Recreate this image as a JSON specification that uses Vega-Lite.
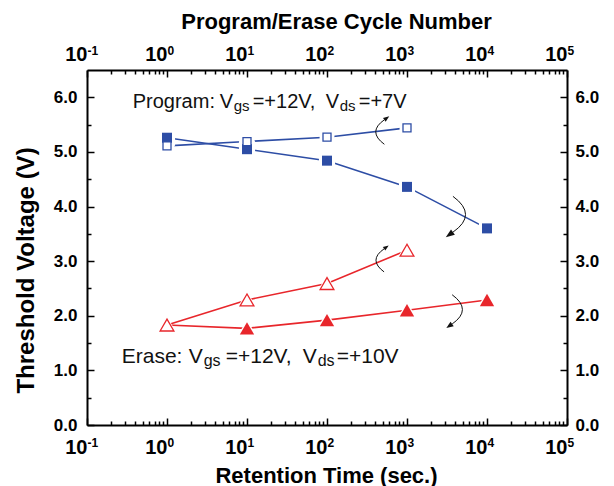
{
  "$schema": "https://vega.github.io/schema/vega-lite/v6.json",
  "width": 480,
  "height": 355,
  "autosize": {"type": "none"},
  "padding": {"left": 87, "top": 70, "right": 47, "bottom": 61},
  "background": "white",
  "config": {
    "view": {"stroke": null},
    "axis": {
      "grid": false,
      "domainColor": "#000000",
      "tickColor": "#000000",
      "labelColor": "#000000",
      "titleColor": "#000000",
      "labelFont": "Liberation Sans",
      "titleFont": "Liberation Sans",
      "labelFontWeight": "bold",
      "titleFontWeight": "bold",
      "labelFlush": false,
      "labelOverlap": false,
      "labelBound": false,
      "domainWidth": 2,
      "tickWidth": 1.5
    }
  },
  "datasets": {
    "pts": [
      {"t": 1, "v": 5.26, "series": "Program retention"},
      {"t": 10, "v": 5.05, "series": "Program retention"},
      {"t": 100, "v": 4.84, "series": "Program retention"},
      {"t": 1000, "v": 4.36, "series": "Program retention"},
      {"t": 10000, "v": 3.6, "series": "Program retention"},
      {"t": 1, "v": 5.11, "series": "Program cycling"},
      {"t": 10, "v": 5.19, "series": "Program cycling"},
      {"t": 100, "v": 5.27, "series": "Program cycling"},
      {"t": 1000, "v": 5.44, "series": "Program cycling"},
      {"t": 1, "v": 1.83, "series": "Erase cycling"},
      {"t": 10, "v": 2.29, "series": "Erase cycling"},
      {"t": 100, "v": 2.59, "series": "Erase cycling"},
      {"t": 1000, "v": 3.2, "series": "Erase cycling"},
      {"t": 1, "v": 1.83, "series": "Erase retention"},
      {"t": 10, "v": 1.77, "series": "Erase retention"},
      {"t": 100, "v": 1.92, "series": "Erase retention"},
      {"t": 1000, "v": 2.1, "series": "Erase retention"},
      {"t": 10000, "v": 2.29, "series": "Erase retention"}
    ],
    "notes": [
      {"t": 0.3727, "v": 5.92, "text": "Program:", "part": "program"},
      {"t": 4.558, "v": 5.92, "text": "V", "part": "program"},
      {"t": 6.819, "v": 5.85, "text": "gs", "part": "program-sub"},
      {"t": 11.78, "v": 5.92, "text": "=+12V,", "part": "program"},
      {"t": 96.3, "v": 5.92, "text": "V", "part": "program"},
      {"t": 144.1, "v": 5.85, "text": "ds", "part": "program-sub"},
      {"t": 249.0, "v": 5.92, "text": "=+7V", "part": "program"},
      {"t": 0.2716, "v": 1.25, "text": "Erase:", "part": "erase"},
      {"t": 1.867, "v": 1.25, "text": "V", "part": "erase"},
      {"t": 2.875, "v": 1.18, "text": "gs", "part": "erase-sub"},
      {"t": 5.417, "v": 1.25, "text": "=+12V,", "part": "erase"},
      {"t": 49.69, "v": 1.25, "text": "V", "part": "erase"},
      {"t": 76.5, "v": 1.18, "text": "ds", "part": "erase-sub"},
      {"t": 132.2, "v": 1.25, "text": "=+10V", "part": "erase"}
    ],
    "turns": [
      {"t": 456, "v": 5.37, "arc": "a1"},
      {"t": 4560, "v": 3.85, "arc": "a2"},
      {"t": 456, "v": 3.02, "arc": "a3"},
      {"t": 4300, "v": 2.11, "arc": "a4"}
    ]
  },
  "resolve": {
    "axis": {"x": "independent", "y": "independent"},
    "scale": {"shape": "independent", "size": "independent"}
  },
  "layer": [
    {
      "data": {"name": "pts"},
      "mark": {"type": "line", "strokeWidth": 1.6},
      "encoding": {
        "x": {
          "field": "t", "type": "quantitative",
          "scale": {"type": "log", "domain": [0.1, 100000], "nice": false},
          "axis": {
            "orient": "bottom",
            "values": [0.1, 1, 10, 100, 1000, 10000, 100000],
            "labelExpr": "'10'",
            "labelFontSize": 20,
            "labelAlign": "right",
            "labelBaseline": "alphabetic",
            "labelDx": 9,
            "labelPadding": 35,
            "tickSize": -7,
            "title": "Retention Time (sec.)",
            "titleFontSize": 22,
            "titleX": 239,
            "titleY": 50,
            "titleAlign": "center",
            "titleBaseline": "middle",
            "titleAngle": 0
          }
        },
        "y": {
          "field": "v", "type": "quantitative",
          "scale": {"domain": [0, 6.5], "nice": false, "zero": false},
          "axis": {
            "orient": "left",
            "values": [0, 1, 2, 3, 4, 5, 6],
            "format": ".1f",
            "labelFontSize": 17,
            "labelPadding": 17,
            "tickSize": -7,
            "title": "Threshold Voltage (V)",
            "titleFontSize": 24,
            "titleX": -61,
            "titleY": 200,
            "titleAngle": -90,
            "titleAlign": "center",
            "titleBaseline": "middle"
          }
        },
        "color": {
          "field": "series", "type": "nominal",
          "scale": {
            "domain": ["Program retention", "Program cycling", "Erase cycling", "Erase retention"],
            "range": ["#2D4DA5", "#2D4DA5", "#E8262B", "#E8262B"]
          },
          "legend": null
        }
      }
    },
    {
      "data": {"name": "pts"},
      "transform": [{"filter": "!(datum.series === 'Erase retention' && datum.t === 1)"}],
      "mark": {"type": "point", "filled": true, "color": "white", "opacity": 1, "strokeWidth": 0},
      "encoding": {
        "x": {
          "field": "t", "type": "quantitative",
          "scale": {"type": "log", "domain": [0.1, 100000], "nice": false},
          "axis": {
            "orient": "bottom",
            "values": [0.2, 0.3, 0.4, 0.5, 0.6, 0.7, 0.8, 0.9, 2, 3, 4, 5, 6, 7, 8, 9, 20, 30, 40, 50, 60, 70, 80, 90, 200, 300, 400, 500, 600, 700, 800, 900, 2000, 3000, 4000, 5000, 6000, 7000, 8000, 9000, 20000, 30000, 40000, 50000, 60000, 70000, 80000, 90000],
            "labels": false,
            "domain": false,
            "tickSize": -4,
            "title": null
          }
        },
        "y": {
          "field": "v", "type": "quantitative",
          "scale": {"domain": [0, 6.5], "nice": false, "zero": false},
          "axis": {
            "orient": "left",
            "values": [0.5, 1.5, 2.5, 3.5, 4.5, 5.5],
            "labels": false,
            "domain": false,
            "tickSize": -4,
            "title": null
          }
        },
        "shape": {
          "field": "series", "type": "nominal",
          "scale": {
            "domain": ["Program retention", "Program cycling", "Erase cycling", "Erase retention"],
            "range": ["square", "square", "triangle-up", "triangle-up"]
          },
          "legend": null
        },
        "size": {
          "field": "series", "type": "nominal",
          "scale": {
            "type": "ordinal",
            "domain": ["Program retention", "Program cycling", "Erase cycling", "Erase retention"],
            "range": [260, 220, 420, 420]
          },
          "legend": null
        }
      }
    },
    {
      "data": {"name": "pts"},
      "transform": [{"filter": "datum.series === 'Program retention'"}],
      "mark": {"type": "point", "shape": "square", "filled": true, "color": "#2D4DA5", "opacity": 1, "size": 100, "strokeWidth": 0},
      "encoding": {
        "x": {
          "field": "t", "type": "quantitative",
          "scale": {"type": "log", "domain": [0.1, 100000], "nice": false},
          "axis": {
            "orient": "bottom",
            "values": [0.1, 1, 10, 100, 1000, 10000, 100000],
            "labelExpr": "'' + round(log(datum.value) / LN10)",
            "labelFontSize": 12,
            "labelAlign": "left",
            "labelBaseline": "alphabetic",
            "labelDx": 10,
            "labelPadding": 21,
            "ticks": false,
            "domain": false,
            "title": null
          }
        },
        "y": {
          "field": "v", "type": "quantitative",
          "scale": {"domain": [0, 6.5], "nice": false, "zero": false},
          "axis": {
            "orient": "right",
            "values": [0, 1, 2, 3, 4, 5, 6],
            "format": ".1f",
            "labelFontSize": 17,
            "labelPadding": 15,
            "tickSize": -7,
            "title": null
          }
        }
      }
    },
    {
      "data": {"name": "pts"},
      "transform": [{"filter": "datum.series === 'Program cycling'"}],
      "mark": {"type": "point", "shape": "square", "filled": true, "fill": "white", "stroke": "#2D4DA5", "strokeWidth": 1.3, "opacity": 1, "size": 64},
      "encoding": {
        "x": {
          "field": "t", "type": "quantitative",
          "scale": {"type": "log", "domain": [0.1, 100000], "nice": false},
          "axis": {
            "orient": "top",
            "values": [0.1, 1, 10, 100, 1000, 10000, 100000],
            "labelExpr": "'10'",
            "labelFontSize": 20,
            "labelAlign": "right",
            "labelBaseline": "alphabetic",
            "labelDx": 9,
            "labelPadding": 17,
            "tickSize": -7,
            "title": "Program/Erase Cycle Number",
            "titleFontSize": 22,
            "titleX": 249,
            "titleY": -49,
            "titleAlign": "center",
            "titleBaseline": "middle",
            "titleAngle": 0
          }
        },
        "y": {
          "field": "v", "type": "quantitative",
          "scale": {"domain": [0, 6.5], "nice": false, "zero": false},
          "axis": {
            "orient": "right",
            "values": [0.5, 1.5, 2.5, 3.5, 4.5, 5.5],
            "labels": false,
            "domain": false,
            "tickSize": -4,
            "title": null
          }
        }
      }
    },
    {
      "data": {"name": "pts"},
      "transform": [{"filter": "datum.series === 'Erase retention' && datum.t > 1"}],
      "mark": {"type": "point", "shape": "triangle-up", "filled": true, "color": "#E8262B", "opacity": 1, "size": 205, "strokeWidth": 0},
      "encoding": {
        "x": {
          "field": "t", "type": "quantitative",
          "scale": {"type": "log", "domain": [0.1, 100000], "nice": false},
          "axis": {
            "orient": "top",
            "values": [0.2, 0.3, 0.4, 0.5, 0.6, 0.7, 0.8, 0.9, 2, 3, 4, 5, 6, 7, 8, 9, 20, 30, 40, 50, 60, 70, 80, 90, 200, 300, 400, 500, 600, 700, 800, 900, 2000, 3000, 4000, 5000, 6000, 7000, 8000, 9000, 20000, 30000, 40000, 50000, 60000, 70000, 80000, 90000],
            "labels": false,
            "domain": false,
            "tickSize": -4,
            "title": null
          }
        },
        "y": {
          "field": "v", "type": "quantitative",
          "scale": {"domain": [0, 6.5], "nice": false, "zero": false},
          "axis": null
        }
      }
    },
    {
      "data": {"name": "pts"},
      "transform": [{"filter": "datum.series === 'Erase cycling'"}],
      "mark": {"type": "point", "shape": "triangle-up", "filled": true, "fill": "white", "stroke": "#E8262B", "strokeWidth": 1.3, "opacity": 1, "size": 190},
      "encoding": {
        "x": {
          "field": "t", "type": "quantitative",
          "scale": {"type": "log", "domain": [0.1, 100000], "nice": false},
          "axis": {
            "orient": "top",
            "values": [0.1, 1, 10, 100, 1000, 10000, 100000],
            "labelExpr": "'' + round(log(datum.value) / LN10)",
            "labelFontSize": 12,
            "labelAlign": "left",
            "labelBaseline": "alphabetic",
            "labelDx": 10,
            "labelPadding": 16,
            "ticks": false,
            "domain": false,
            "title": null
          }
        },
        "y": {
          "field": "v", "type": "quantitative",
          "scale": {"domain": [0, 6.5], "nice": false, "zero": false},
          "axis": null
        }
      }
    },
    {
      "data": {"name": "notes"},
      "mark": {"type": "text", "align": "left", "baseline": "middle", "font": "Liberation Sans", "color": "#111111"},
      "encoding": {
        "x": {"field": "t", "type": "quantitative", "scale": {"type": "log", "domain": [0.1, 100000], "nice": false}, "axis": null},
        "y": {"field": "v", "type": "quantitative", "scale": {"domain": [0, 6.5], "nice": false, "zero": false}, "axis": null},
        "text": {"field": "text"},
        "size": {
          "field": "part", "type": "nominal",
          "scale": {"type": "ordinal", "domain": ["program", "program-sub", "erase", "erase-sub"], "range": [20, 15, 21, 16]},
          "legend": null
        }
      }
    },
    {
      "data": {"name": "turns"},
      "mark": {"type": "point", "filled": false, "stroke": "#111111", "strokeWidth": 1, "opacity": 1},
      "encoding": {
        "x": {"field": "t", "type": "quantitative", "scale": {"type": "log", "domain": [0.1, 100000], "nice": false}, "axis": null},
        "y": {"field": "v", "type": "quantitative", "scale": {"domain": [0, 6.5], "nice": false, "zero": false}, "axis": null},
        "shape": {
          "field": "arc", "type": "nominal",
          "scale": {
            "domain": ["a1", "a2", "a3", "a4"],
            "range": ["M0.35,-0.9Q-0.95,0 0.35,0.95", "M-0.35,-0.95Q0.95,0 -0.35,0.9", "M0.35,-0.9Q-0.95,0 0.35,0.95", "M-0.35,-0.95Q0.95,0 -0.35,0.9"]
          },
          "legend": null
        },
        "size": {
          "field": "arc", "type": "nominal",
          "scale": {"type": "ordinal", "domain": ["a1", "a2", "a3", "a4"], "range": [700, 1500, 620, 1000]},
          "legend": null
        }
      }
    },
    {
      "data": {"name": "turns"},
      "mark": {"type": "point", "filled": true, "color": "#111111", "strokeWidth": 0, "opacity": 1},
      "encoding": {
        "x": {"field": "t", "type": "quantitative", "scale": {"type": "log", "domain": [0.1, 100000], "nice": false}, "axis": null},
        "y": {"field": "v", "type": "quantitative", "scale": {"domain": [0, 6.5], "nice": false, "zero": false}, "axis": null},
        "shape": {
          "field": "arc", "type": "nominal",
          "scale": {
            "domain": ["a1", "a2", "a3", "a4"],
            "range": ["M0.72,-1.16L0.45,-0.76L0.25,-1.04Z", "M-0.72,1.16L-0.25,1.04L-0.45,0.76Z", "M0.72,-1.16L0.45,-0.76L0.25,-1.04Z", "M-0.72,1.16L-0.25,1.04L-0.45,0.76Z"]
          },
          "legend": null
        },
        "size": {
          "field": "arc", "type": "nominal",
          "scale": {"type": "ordinal", "domain": ["a1", "a2", "a3", "a4"], "range": [700, 1500, 620, 1000]},
          "legend": null
        }
      }
    }
  ]
}
